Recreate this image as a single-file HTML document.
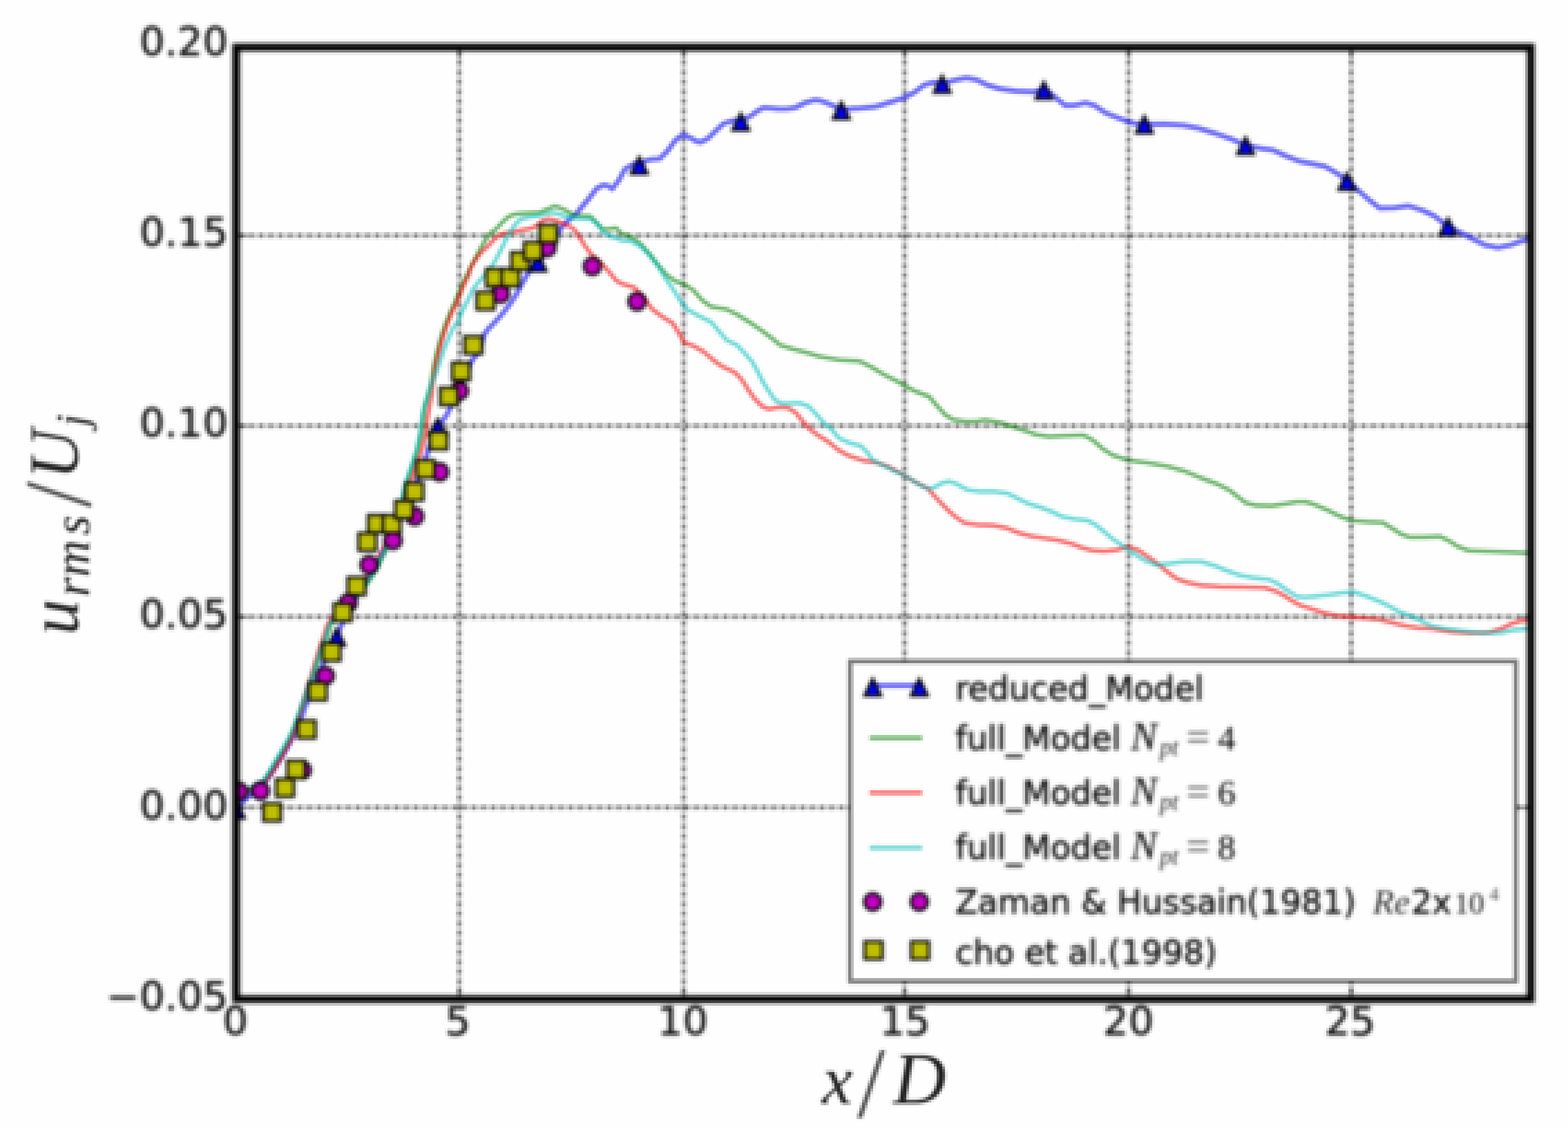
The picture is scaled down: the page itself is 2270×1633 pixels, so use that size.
<!DOCTYPE html>
<html lang="en"><head><meta charset="utf-8"><title>u_rms/U_j vs x/D</title>
<style>html,body{margin:0;padding:0;background:#fefefe;overflow:hidden}svg{display:block}</style></head>
<body>
<svg xmlns="http://www.w3.org/2000/svg" width="2270" height="1633" viewBox="0 0 2270 1633">
<defs>
<filter id="soft" x="0" y="0" width="2270" height="1633" filterUnits="userSpaceOnUse" color-interpolation-filters="sRGB"><feGaussianBlur in="SourceGraphic" stdDeviation="0.9" result="b"/><feFlood x="1" y="1" width="1" height="1" flood-color="#000" flood-opacity="1" result="dot"/><feComposite in="dot" in2="dot" operator="over" x="0" y="0" width="4" height="4" result="cell"/><feTile in="cell" x="0" y="0" width="2270" height="1633" result="grid"/><feComposite in="b" in2="grid" operator="in" result="samp"/><feMorphology in="samp" operator="dilate" radius="1" result="d"/><feOffset in="d" dx="1" dy="0" result="d1"/><feOffset in="d" dx="0" dy="1" result="d2"/><feOffset in="d" dx="1" dy="1" result="d3"/><feMerge><feMergeNode in="d3"/><feMergeNode in="d1"/><feMergeNode in="d2"/><feMergeNode in="d"/></feMerge></filter>
<filter id="b_grid" x="0" y="0" width="2270" height="1633" filterUnits="userSpaceOnUse" color-interpolation-filters="sRGB"><feGaussianBlur stdDeviation="0.9"/></filter>
<filter id="b_line" x="0" y="0" width="2270" height="1633" filterUnits="userSpaceOnUse" color-interpolation-filters="sRGB"><feGaussianBlur stdDeviation="1.3"/></filter>
<filter id="b_mark" x="0" y="0" width="2270" height="1633" filterUnits="userSpaceOnUse" color-interpolation-filters="sRGB"><feGaussianBlur stdDeviation="1.9"/></filter>
<filter id="b_text" x="0" y="0" width="2270" height="1633" filterUnits="userSpaceOnUse" color-interpolation-filters="sRGB"><feGaussianBlur stdDeviation="1.9"/></filter>
<filter id="b_frame" x="0" y="0" width="2270" height="1633" filterUnits="userSpaceOnUse" color-interpolation-filters="sRGB"><feGaussianBlur stdDeviation="2.6"/></filter>
<filter id="b_leg" x="0" y="0" width="2270" height="1633" filterUnits="userSpaceOnUse" color-interpolation-filters="sRGB"><feGaussianBlur stdDeviation="1.0"/></filter>
<filter id="b_lab" x="0" y="0" width="2270" height="1633" filterUnits="userSpaceOnUse" color-interpolation-filters="sRGB"><feGaussianBlur stdDeviation="1.8"/></filter>
<clipPath id="ax"><rect x="341.9" y="68.5" width="1874.2999999999997" height="1378.0"/></clipPath>
</defs>
<rect width="2270" height="1633" fill="#fefefe"/>
<g filter="url(#soft)">
<rect x="-4" y="-4" width="2278" height="1641" fill="#fefefe"/>
<g transform="translate(-0.5,-0.5)">
<g fill="none" clip-path="url(#ax)"><g filter="url(#b_grid)" stroke="#000" stroke-width="7">
<line x1="665.0" y1="68.5" x2="665.0" y2="1446.5" stroke-opacity="0.2"/>
<line x1="665.0" y1="74.5" x2="665.0" y2="1446.5" stroke-opacity="0.4" stroke-dasharray="4.5 9.5"/>
<line x1="989.8" y1="68.5" x2="989.8" y2="1446.5" stroke-opacity="0.2"/>
<line x1="989.8" y1="74.5" x2="989.8" y2="1446.5" stroke-opacity="0.4" stroke-dasharray="4.5 9.5"/>
<line x1="1309.6" y1="68.5" x2="1309.6" y2="1446.5" stroke-opacity="0.2"/>
<line x1="1309.6" y1="74.5" x2="1309.6" y2="1446.5" stroke-opacity="0.4" stroke-dasharray="4.5 9.5"/>
<line x1="1633.8" y1="68.5" x2="1633.8" y2="1446.5" stroke-opacity="0.2"/>
<line x1="1633.8" y1="74.5" x2="1633.8" y2="1446.5" stroke-opacity="0.4" stroke-dasharray="4.5 9.5"/>
<line x1="1956.2" y1="68.5" x2="1956.2" y2="1446.5" stroke-opacity="0.2"/>
<line x1="1956.2" y1="74.5" x2="1956.2" y2="1446.5" stroke-opacity="0.4" stroke-dasharray="4.5 9.5"/>
<line x1="341.9" y1="341.0" x2="2216.2" y2="341.0" stroke-opacity="0.2"/>
<line x1="347.9" y1="341.0" x2="2216.2" y2="341.0" stroke-opacity="0.4" stroke-dasharray="4.5 9.5"/>
<line x1="341.9" y1="616.5" x2="2216.2" y2="616.5" stroke-opacity="0.2"/>
<line x1="347.9" y1="616.5" x2="2216.2" y2="616.5" stroke-opacity="0.4" stroke-dasharray="4.5 9.5"/>
<line x1="341.9" y1="893.0" x2="2216.2" y2="893.0" stroke-opacity="0.2"/>
<line x1="347.9" y1="893.0" x2="2216.2" y2="893.0" stroke-opacity="0.4" stroke-dasharray="4.5 9.5"/>
<line x1="341.9" y1="1169.0" x2="2216.2" y2="1169.0" stroke-opacity="0.2"/>
<line x1="347.9" y1="1169.0" x2="2216.2" y2="1169.0" stroke-opacity="0.4" stroke-dasharray="4.5 9.5"/>
</g></g>
<g clip-path="url(#ax)">
<g filter="url(#b_line)" fill="none" stroke-linejoin="round" stroke-width="6.2" stroke-opacity="0.56">
<polyline points="342.0,1171.0 352.0,1160.0 366.0,1148.0 380.0,1137.0 390.0,1124.0 399.0,1110.0 407.0,1097.0 415.0,1084.0 422.0,1071.0 428.0,1059.0 433.0,1047.0 438.0,1034.0 442.0,1022.0 447.0,1010.0 452.0,998.0 458.0,984.0 464.0,970.0 470.0,957.0 476.0,944.0 482.0,932.0 487.5,922.0 493.0,908.0 500.0,893.0 510.0,874.0 520.0,857.0 532.0,838.0 543.0,820.0 552.0,803.0 560.0,788.0 570.0,768.0 580.0,748.0 590.0,728.0 600.0,706.0 608.0,688.0 615.0,668.0 620.0,652.0 627.0,634.0 633.8,618.0 640.0,610.0 646.0,602.0 652.0,590.0 660.0,572.0 668.0,555.0 675.0,539.0 682.0,524.0 690.0,513.0 696.0,500.0 701.0,484.0 707.0,476.0 713.0,470.0 725.0,457.0 737.0,442.0 747.0,427.0 756.0,410.0 762.0,400.0 768.0,389.0 779.0,380.0 790.0,362.0 802.0,345.0 814.0,328.0 825.0,317.0 836.0,307.8 840.0,302.2 851.0,289.3 864.0,272.6 873.3,268.0 880.0,269.0 886.3,273.5 895.6,261.5 904.8,244.8 917.8,237.4 925.4,239.0 936.3,231.9 945.0,230.5 954.8,230.0 966.0,218.9 977.0,204.0 984.0,198.0 990.0,194.8 1001.0,200.4 1008.0,204.5 1014.0,206.0 1025.0,200.4 1036.3,189.3 1047.4,179.0 1062.0,174.4 1072.4,176.0 1088.0,167.0 1096.0,161.0 1104.8,156.0 1115.0,156.5 1127.0,157.8 1140.0,157.5 1151.0,156.0 1166.0,148.5 1179.0,144.8 1187.0,145.5 1195.6,148.5 1208.5,154.0 1218.0,159.5 1228.0,158.0 1238.0,156.9 1240.0,157.2 1267.8,154.4 1291.9,147.0 1308.5,141.5 1323.3,134.0 1338.0,123.0 1351.0,119.3 1364.0,121.5 1375.0,118.0 1384.4,115.6 1399.0,112.8 1414.0,115.6 1429.0,123.0 1447.4,128.5 1471.5,132.0 1495.6,133.0 1511.3,130.4 1520.0,135.0 1530.7,143.3 1541.9,152.6 1554.8,152.6 1571.5,148.9 1584.4,152.6 1601.0,163.7 1619.6,171.0 1634.4,176.7 1645.0,179.0 1656.7,180.0 1686.3,179.6 1714.0,181.5 1736.3,186.0 1760.4,193.5 1784.4,201.9 1803.3,210.6 1825.0,214.8 1843.7,217.6 1862.0,226.0 1880.7,233.3 1899.0,237.0 1917.8,240.7 1930.7,248.0 1940.0,253.7 1950.0,262.3 1969.0,278.0 1984.0,291.0 1997.6,301.5 2018.0,301.0 2039.0,298.0 2058.0,304.0 2076.0,312.2 2096.3,328.0 2118.5,339.0 2135.0,347.4 2150.0,354.8 2168.5,358.5 2187.0,354.8 2201.9,349.3 2214.0,345.6" stroke="#0000ff" stroke-width="7.6"/>
</g>
<g filter="url(#b_mark)">
<path d="M342.0,1160.5 L330.0,1184.5 L354.0,1184.5 Z" fill="#0000ff" stroke="#000" stroke-width="4.0" stroke-linejoin="miter"/>
<path d="M487.5,910.5 L475.5,934.5 L499.5,934.5 Z" fill="#0000ff" stroke="#000" stroke-width="4.0" stroke-linejoin="miter"/>
<path d="M633.8,606.5 L621.8,630.5 L645.8,630.5 Z" fill="#0000ff" stroke="#000" stroke-width="4.0" stroke-linejoin="miter"/>
<path d="M779.0,368.5 L767.0,392.5 L791.0,392.5 Z" fill="#0000ff" stroke="#000" stroke-width="4.0" stroke-linejoin="miter"/>
<path d="M925.4,227.5 L913.4,251.5 L937.4,251.5 Z" fill="#0000ff" stroke="#000" stroke-width="4.0" stroke-linejoin="miter"/>
<path d="M1072.4,164.5 L1060.4,188.5 L1084.4,188.5 Z" fill="#0000ff" stroke="#000" stroke-width="4.0" stroke-linejoin="miter"/>
<path d="M1218.0,148.0 L1206.0,172.0 L1230.0,172.0 Z" fill="#0000ff" stroke="#000" stroke-width="4.0" stroke-linejoin="miter"/>
<path d="M1364.0,110.0 L1352.0,134.0 L1376.0,134.0 Z" fill="#0000ff" stroke="#000" stroke-width="4.0" stroke-linejoin="miter"/>
<path d="M1511.3,118.9 L1499.3,142.9 L1523.3,142.9 Z" fill="#0000ff" stroke="#000" stroke-width="4.0" stroke-linejoin="miter"/>
<path d="M1656.7,168.5 L1644.7,192.5 L1668.7,192.5 Z" fill="#0000ff" stroke="#000" stroke-width="4.0" stroke-linejoin="miter"/>
<path d="M1803.3,199.1 L1791.3,223.1 L1815.3,223.1 Z" fill="#0000ff" stroke="#000" stroke-width="4.0" stroke-linejoin="miter"/>
<path d="M1950.0,250.8 L1938.0,274.8 L1962.0,274.8 Z" fill="#0000ff" stroke="#000" stroke-width="4.0" stroke-linejoin="miter"/>
<path d="M2096.3,316.5 L2084.3,340.5 L2108.3,340.5 Z" fill="#0000ff" stroke="#000" stroke-width="4.0" stroke-linejoin="miter"/>
</g>
<g filter="url(#b_line)" fill="none" stroke-linejoin="round" stroke-width="6.2" stroke-opacity="0.56">
<polyline points="342.5,1149.0 352.5,1146.0 362.5,1142.0 372.5,1137.0 383.2,1129.9 391.8,1116.4 399.1,1104.0 406.5,1092.0 413.8,1079.6 419.9,1068.6 424.8,1057.6 429.7,1045.3 434.6,1031.9 438.3,1020.8 442.0,1011.0 445.7,1000.0 452.0,983.5 459.3,961.6 466.7,938.8 474.0,919.4 478.9,904.0 490.5,890.0 505.5,873.0 520.5,857.0 535.3,840.0 544.5,825.0 551.2,812.0 557.3,800.0 563.5,785.0 569.5,768.0 575.5,750.0 580.7,732.8 585.5,712.0 591.8,689.8 599.1,668.6 605.2,649.0 610.1,624.5 613.2,600.0 614.5,588.0 619.5,572.0 624.0,556.0 628.3,528.6 633.2,507.8 638.1,489.4 644.3,471.0 651.5,452.7 659.0,436.8 665.1,422.0 671.2,407.4 676.1,398.0 682.0,386.0 688.0,374.0 694.0,363.0 700.0,352.0 706.7,341.0 712.0,336.0 717.8,332.0 726.0,323.0 734.4,315.0 741.0,311.5 749.0,309.6 765.0,308.5 780.7,307.8 792.0,303.0 803.0,298.5 810.0,300.5 817.8,304.0 824.0,307.5 830.7,311.5 843.0,312.5 854.8,313.0 862.0,320.7 873.0,332.0 882.0,331.5 892.0,330.0 900.0,338.5 914.8,344.0 927.8,353.3 940.7,368.0 953.7,384.8 964.8,397.8 977.8,407.0 990.7,411.7 1003.7,420.0 1016.7,434.8 1029.6,444.0 1051.9,447.8 1066.7,455.0 1085.0,466.3 1103.7,479.3 1118.5,490.4 1129.6,499.6 1144.4,504.3 1168.5,510.7 1187.0,516.3 1214.8,521.0 1244.4,522.8 1261.0,531.0 1279.6,542.2 1298.0,551.5 1307.4,557.0 1324.0,566.0 1345.0,574.0 1357.0,588.0 1369.0,601.0 1380.0,607.5 1398.0,610.4 1414.0,610.0 1426.0,608.0 1448.0,611.7 1466.7,618.0 1485.0,623.7 1500.0,629.3 1518.5,632.0 1540.7,631.0 1568.5,630.0 1581.5,636.7 1596.3,649.6 1611.0,659.0 1633.3,666.2 1663.0,670.3 1691.0,675.3 1714.8,682.0 1739.0,692.0 1763.0,701.0 1779.6,709.4 1792.6,719.6 1803.7,728.0 1818.5,731.7 1840.7,732.4 1859.0,729.8 1877.8,726.5 1890.0,726.5 1901.9,730.0 1920.4,737.8 1938.9,747.0 1955.6,753.5 1979.6,755.5 2001.9,756.5 2016.7,765.6 2027.8,773.0 2040.7,777.6 2063.0,777.6 2085.0,776.7 2098.0,783.0 2111.0,791.5 2126.0,797.0 2146.3,798.0 2174.0,799.0 2214.0,800.7" stroke="#008000"/>
<polyline points="342.6,1149.0 352.9,1146.0 363.3,1142.0 373.8,1137.0 385.2,1129.9 395.2,1116.4 402.9,1104.0 409.8,1092.0 416.6,1079.6 422.2,1068.6 426.6,1057.6 430.5,1045.3 434.4,1031.9 437.2,1020.8 440.1,1011.0 443.3,1000.0 448.9,983.5 455.4,961.6 462.3,938.8 469.3,919.4 474.0,904.0 485.4,890.0 500.2,873.0 515.0,857.0 529.5,840.0 538.6,825.0 545.5,812.0 552.0,800.0 559.2,785.0 565.7,768.0 573.5,750.0 581.3,732.8 588.8,712.0 597.3,689.8 604.8,668.6 611.2,649.0 616.3,624.5 619.7,600.0 621.8,588.0 625.2,571.7 626.7,555.3 630.8,528.6 635.7,507.8 640.6,489.4 646.8,471.0 654.0,452.7 661.5,436.8 667.6,422.0 673.7,407.4 678.6,398.0 680.7,389.0 687.0,378.0 693.7,369.0 700.0,362.0 706.7,356.0 714.0,348.0 721.5,341.0 732.0,337.5 743.7,335.6 757.0,333.0 771.5,330.0 779.0,325.0 786.0,319.0 794.0,317.0 803.0,319.0 816.0,324.0 829.0,330.0 835.0,337.0 840.0,345.0 847.0,356.0 855.0,367.0 864.0,376.0 873.0,383.7 883.0,395.0 892.0,406.0 900.0,410.7 918.5,416.3 933.3,433.0 944.4,447.8 959.3,458.9 974.0,468.0 983.3,483.0 990.7,496.0 1003.7,500.6 1018.5,509.0 1033.3,521.9 1046.3,531.0 1063.0,538.5 1074.0,549.6 1083.3,564.4 1092.6,577.4 1103.7,588.5 1113.0,592.2 1127.8,589.5 1140.7,590.4 1151.9,597.4 1161.0,608.5 1170.4,619.6 1185.0,630.7 1200.0,640.0 1213.0,651.0 1227.8,659.4 1250.0,666.9 1268.5,669.6 1285.0,675.0 1305.6,686.3 1324.0,697.4 1342.6,706.7 1351.9,717.0 1363.0,729.0 1374.0,740.0 1385.0,749.5 1396.3,757.0 1414.8,759.8 1438.9,760.7 1457.4,764.4 1476.0,771.9 1494.4,776.5 1513.0,779.3 1531.5,782.0 1550.0,786.7 1566.7,793.0 1581.5,796.9 1600.0,798.0 1618.5,795.8 1633.3,791.5 1648.0,796.5 1663.0,806.7 1677.8,817.8 1689.0,827.0 1703.7,838.0 1720.4,843.7 1739.0,847.4 1766.7,849.3 1803.7,850.0 1831.5,851.0 1846.3,855.6 1859.0,862.2 1870.4,869.6 1881.5,876.0 1896.3,880.6 1914.8,887.0 1933.3,891.2 1956.0,893.3 1979.6,895.0 1998.0,897.0 2016.7,901.7 2035.0,906.3 2053.7,909.0 2072.0,910.0 2100.0,914.6 2127.8,916.5 2155.6,915.6 2174.0,910.0 2189.0,902.6 2201.9,899.0 2214.0,898.0" stroke="#ff0000"/>
<polyline points="340.5,1149.0 350.5,1146.0 360.5,1142.0 370.5,1137.0 381.2,1129.9 389.8,1116.4 397.1,1104.0 404.5,1092.0 411.8,1079.6 417.9,1068.6 422.8,1057.6 427.7,1045.3 432.6,1031.9 436.3,1020.8 440.0,1011.0 443.7,1000.0 450.0,983.5 457.3,961.6 464.7,938.8 472.0,919.4 476.9,904.0 488.5,890.0 503.5,873.0 518.5,857.0 533.3,840.0 542.5,825.0 549.2,812.0 555.3,800.0 562.0,785.0 568.0,768.0 574.0,750.0 579.2,732.8 584.0,712.0 590.3,689.8 597.6,668.6 603.7,649.0 608.6,624.5 611.7,600.0 615.0,588.0 620.0,571.7 625.0,555.3 631.0,541.0 637.2,522.5 643.3,504.0 649.4,489.4 656.8,473.5 664.0,463.7 667.8,452.7 676.4,436.8 685.0,418.4 694.8,406.0 704.0,396.0 710.0,389.0 716.0,379.0 721.5,369.0 727.0,358.0 732.6,346.7 738.0,337.0 743.7,328.0 749.0,321.5 754.8,317.0 765.0,314.5 777.0,313.0 788.0,310.0 799.0,307.8 808.0,309.5 817.8,313.0 830.0,315.5 843.0,316.5 854.8,317.0 860.0,320.5 866.0,326.0 873.0,335.6 882.0,341.0 892.0,344.8 900.0,347.8 914.8,349.6 927.8,357.0 940.7,370.0 953.7,386.7 964.8,405.0 977.8,423.7 987.0,438.5 994.4,447.8 1011.0,457.0 1029.6,466.3 1040.7,479.3 1051.9,492.2 1066.7,499.6 1076.0,509.0 1089.0,523.7 1096.3,536.7 1103.7,551.5 1113.0,566.3 1122.0,579.3 1133.3,584.4 1145.0,584.0 1157.4,583.5 1170.4,588.0 1181.5,599.3 1192.6,612.2 1203.7,621.5 1214.8,634.4 1229.6,641.0 1246.3,645.6 1255.6,654.8 1263.0,666.0 1277.8,673.3 1296.3,682.6 1309.3,688.0 1324.0,697.4 1337.0,705.0 1345.0,707.0 1351.9,706.0 1363.0,699.6 1374.0,696.9 1385.0,700.6 1400.0,709.0 1418.5,711.7 1440.7,711.7 1459.3,714.4 1474.0,721.9 1489.0,729.3 1507.4,734.8 1522.0,740.4 1537.0,747.8 1555.6,751.5 1574.0,753.3 1585.0,758.9 1596.3,768.0 1607.4,777.4 1620.4,786.7 1635.0,797.4 1655.6,810.4 1674.0,817.8 1692.6,816.0 1714.8,813.0 1739.0,813.0 1757.4,818.7 1776.0,826.0 1794.4,832.6 1813.0,836.3 1837.0,839.0 1850.0,845.0 1864.0,855.0 1877.8,863.7 1890.0,864.5 1901.9,863.7 1924.0,861.0 1946.3,858.0 1961.0,857.2 1979.6,863.7 1998.0,871.0 2013.0,878.5 2026.0,886.0 2044.4,892.4 2057.4,899.0 2072.0,906.3 2090.7,910.0 2118.5,913.7 2146.3,916.5 2174.0,915.6 2192.6,911.9 2214.0,910.0" stroke="#00bfbf"/>
</g>
<g filter="url(#b_mark)">
<circle cx="346.0" cy="1146.0" r="12.25" fill="#bf00bf" stroke="#000" stroke-width="4.0"/>
<circle cx="377.0" cy="1145.0" r="12.25" fill="#bf00bf" stroke="#000" stroke-width="4.0"/>
<circle cx="437.5" cy="1115.0" r="12.25" fill="#bf00bf" stroke="#000" stroke-width="4.0"/>
<circle cx="471.0" cy="978.5" r="12.25" fill="#bf00bf" stroke="#000" stroke-width="4.0"/>
<circle cx="504.0" cy="873.0" r="12.25" fill="#bf00bf" stroke="#000" stroke-width="4.0"/>
<circle cx="534.4" cy="817.7" r="12.25" fill="#bf00bf" stroke="#000" stroke-width="4.0"/>
<circle cx="569.0" cy="782.5" r="12.25" fill="#bf00bf" stroke="#000" stroke-width="4.0"/>
<circle cx="600.3" cy="747.5" r="12.25" fill="#bf00bf" stroke="#000" stroke-width="4.0"/>
<circle cx="636.5" cy="683.3" r="12.25" fill="#bf00bf" stroke="#000" stroke-width="4.0"/>
<circle cx="665.0" cy="566.0" r="12.25" fill="#bf00bf" stroke="#000" stroke-width="4.0"/>
<circle cx="724.6" cy="425.5" r="12.25" fill="#bf00bf" stroke="#000" stroke-width="4.0"/>
<circle cx="792.0" cy="358.7" r="12.25" fill="#bf00bf" stroke="#000" stroke-width="4.0"/>
<circle cx="857.6" cy="385.6" r="12.25" fill="#bf00bf" stroke="#000" stroke-width="4.0"/>
<circle cx="922.3" cy="436.6" r="12.25" fill="#bf00bf" stroke="#000" stroke-width="4.0"/>
<rect x="381.2" y="1163.2" width="25.5" height="25.5" fill="#bfbf00" stroke="#000" stroke-width="4.0"/>
<rect x="399.8" y="1127.8" width="25.5" height="25.5" fill="#bfbf00" stroke="#000" stroke-width="4.0"/>
<rect x="415.9" y="1101.2" width="25.5" height="25.5" fill="#bfbf00" stroke="#000" stroke-width="4.0"/>
<rect x="431.2" y="1043.2" width="25.5" height="25.5" fill="#bfbf00" stroke="#000" stroke-width="4.0"/>
<rect x="447.2" y="988.2" width="25.5" height="25.5" fill="#bfbf00" stroke="#000" stroke-width="4.0"/>
<rect x="467.2" y="931.2" width="25.5" height="25.5" fill="#bfbf00" stroke="#000" stroke-width="4.0"/>
<rect x="483.2" y="873.8" width="25.5" height="25.5" fill="#bfbf00" stroke="#000" stroke-width="4.0"/>
<rect x="503.5" y="835.8" width="25.5" height="25.5" fill="#bfbf00" stroke="#000" stroke-width="4.0"/>
<rect x="519.2" y="771.8" width="25.5" height="25.5" fill="#bfbf00" stroke="#000" stroke-width="4.0"/>
<rect x="532.8" y="745.6" width="25.5" height="25.5" fill="#bfbf00" stroke="#000" stroke-width="4.0"/>
<rect x="554.5" y="745.9" width="25.5" height="25.5" fill="#bfbf00" stroke="#000" stroke-width="4.0"/>
<rect x="572.2" y="725.2" width="25.5" height="25.5" fill="#bfbf00" stroke="#000" stroke-width="4.0"/>
<rect x="587.2" y="699.0" width="25.5" height="25.5" fill="#bfbf00" stroke="#000" stroke-width="4.0"/>
<rect x="603.5" y="666.2" width="25.5" height="25.5" fill="#bfbf00" stroke="#000" stroke-width="4.0"/>
<rect x="622.2" y="625.2" width="25.5" height="25.5" fill="#bfbf00" stroke="#000" stroke-width="4.0"/>
<rect x="637.2" y="561.2" width="25.5" height="25.5" fill="#bfbf00" stroke="#000" stroke-width="4.0"/>
<rect x="654.8" y="524.9" width="25.5" height="25.5" fill="#bfbf00" stroke="#000" stroke-width="4.0"/>
<rect x="672.5" y="486.9" width="25.5" height="25.5" fill="#bfbf00" stroke="#000" stroke-width="4.0"/>
<rect x="690.2" y="422.8" width="25.5" height="25.5" fill="#bfbf00" stroke="#000" stroke-width="4.0"/>
<rect x="703.8" y="389.2" width="25.5" height="25.5" fill="#bfbf00" stroke="#000" stroke-width="4.0"/>
<rect x="726.2" y="389.2" width="25.5" height="25.5" fill="#bfbf00" stroke="#000" stroke-width="4.0"/>
<rect x="740.2" y="365.2" width="25.5" height="25.5" fill="#bfbf00" stroke="#000" stroke-width="4.0"/>
<rect x="758.8" y="350.6" width="25.5" height="25.5" fill="#bfbf00" stroke="#000" stroke-width="4.0"/>
<rect x="781.0" y="325.6" width="25.5" height="25.5" fill="#bfbf00" stroke="#000" stroke-width="4.0"/>
</g>
</g>
<g filter="url(#b_grid)" stroke="#000" stroke-opacity="0.25" stroke-width="5" fill="none">
<line x1="665.0" y1="1446.5" x2="665.0" y2="1429.5"/>
<line x1="665.0" y1="68.5" x2="665.0" y2="85.5"/>
<line x1="989.8" y1="1446.5" x2="989.8" y2="1429.5"/>
<line x1="989.8" y1="68.5" x2="989.8" y2="85.5"/>
<line x1="1309.6" y1="1446.5" x2="1309.6" y2="1429.5"/>
<line x1="1309.6" y1="68.5" x2="1309.6" y2="85.5"/>
<line x1="1633.8" y1="1446.5" x2="1633.8" y2="1429.5"/>
<line x1="1633.8" y1="68.5" x2="1633.8" y2="85.5"/>
<line x1="1956.2" y1="1446.5" x2="1956.2" y2="1429.5"/>
<line x1="1956.2" y1="68.5" x2="1956.2" y2="85.5"/>
<line x1="341.9" y1="341.0" x2="358.9" y2="341.0"/>
<line x1="2216.2" y1="341.0" x2="2199.2" y2="341.0"/>
<line x1="341.9" y1="616.5" x2="358.9" y2="616.5"/>
<line x1="2216.2" y1="616.5" x2="2199.2" y2="616.5"/>
<line x1="341.9" y1="893.0" x2="358.9" y2="893.0"/>
<line x1="2216.2" y1="893.0" x2="2199.2" y2="893.0"/>
<line x1="341.9" y1="1169.0" x2="358.9" y2="1169.0"/>
<line x1="2216.2" y1="1169.0" x2="2199.2" y2="1169.0"/>
</g>
<g filter="url(#b_leg)"><rect x="1230.7" y="957.4" width="963.8" height="463.19999999999993" fill="#fefefe" stroke="#000" stroke-opacity="0.52" stroke-width="6.5"/></g>
<g filter="url(#b_line)" fill="none" stroke-width="6.2" stroke-opacity="0.56">
<line x1="1259" y1="992.5" x2="1335" y2="992.5" stroke="#0000ff" stroke-width="7.6"/>
<line x1="1259" y1="1068.4" x2="1335" y2="1068.4" stroke="#008000"/>
<line x1="1259" y1="1147.7" x2="1335" y2="1147.7" stroke="#ff0000"/>
<line x1="1259" y1="1227.3" x2="1335" y2="1227.3" stroke="#00bfbf"/>
</g>
<g filter="url(#b_mark)">
<path d="M1263.5,983.0 L1251.5,1007.0 L1275.5,1007.0 Z" fill="#0000ff" stroke="#000" stroke-width="4.0" stroke-linejoin="miter"/>
<circle cx="1263.5" cy="1305.6" r="12.25" fill="#bf00bf" stroke="#000" stroke-width="4.0"/>
<rect x="1251.8" y="1363.0" width="25.5" height="25.5" fill="#bfbf00" stroke="#000" stroke-width="4.0"/>
<path d="M1331.0,983.0 L1319.0,1007.0 L1343.0,1007.0 Z" fill="#0000ff" stroke="#000" stroke-width="4.0" stroke-linejoin="miter"/>
<circle cx="1331.0" cy="1305.6" r="12.25" fill="#bf00bf" stroke="#000" stroke-width="4.0"/>
<rect x="1319.2" y="1363.0" width="25.5" height="25.5" fill="#bfbf00" stroke="#000" stroke-width="4.0"/>
</g>
<g filter="url(#b_text)" font-family="'DejaVu Sans','Liberation Sans',sans-serif" font-size="47.5" fill="#141414" stroke="#141414" stroke-width="0.9" stroke-linejoin="round">
<text x="1383" y="1013.5">reduced_Model</text>
<text x="1383" y="1085.5">full_Model <tspan stroke-width="0.4" font-family="'Liberation Serif','DejaVu Serif',serif" font-style="italic" font-size="57.0" x="1637">N</tspan><tspan stroke="none" fill-opacity="0.9" font-family="'Liberation Serif','DejaVu Serif',serif" font-style="italic" font-size="35.1" x="1679" dy="8">pt</tspan><tspan stroke="none" fill-opacity="0.8" font-family="'Liberation Serif','DejaVu Serif',serif" font-size="61.8" x="1717" dy="-6">=</tspan><tspan stroke-width="0.4" font-family="'Liberation Serif','DejaVu Serif',serif" font-size="51.3" x="1763" dy="-2">4</tspan></text>
<text x="1383" y="1164.5">full_Model <tspan stroke-width="0.4" font-family="'Liberation Serif','DejaVu Serif',serif" font-style="italic" font-size="57.0" x="1637">N</tspan><tspan stroke="none" fill-opacity="0.9" font-family="'Liberation Serif','DejaVu Serif',serif" font-style="italic" font-size="35.1" x="1679" dy="8">pt</tspan><tspan stroke="none" fill-opacity="0.8" font-family="'Liberation Serif','DejaVu Serif',serif" font-size="61.8" x="1717" dy="-6">=</tspan><tspan stroke-width="0.4" font-family="'Liberation Serif','DejaVu Serif',serif" font-size="51.3" x="1763" dy="-2">6</tspan></text>
<text x="1383" y="1243.5">full_Model <tspan stroke-width="0.4" font-family="'Liberation Serif','DejaVu Serif',serif" font-style="italic" font-size="57.0" x="1637">N</tspan><tspan stroke="none" fill-opacity="0.9" font-family="'Liberation Serif','DejaVu Serif',serif" font-style="italic" font-size="35.1" x="1679" dy="8">pt</tspan><tspan stroke="none" fill-opacity="0.8" font-family="'Liberation Serif','DejaVu Serif',serif" font-size="61.8" x="1717" dy="-6">=</tspan><tspan stroke-width="0.4" font-family="'Liberation Serif','DejaVu Serif',serif" font-size="51.3" x="1763" dy="-2">8</tspan></text>
<text x="1383" y="1322.5">Zaman &amp; Hussain(1981) <tspan stroke="none" fill-opacity="0.9" font-family="'Liberation Serif','DejaVu Serif',serif" font-style="italic" font-size="51.3" x="1987">Re</tspan><tspan x="2043">2x</tspan><tspan stroke="none" font-family="'Liberation Serif','DejaVu Serif',serif" font-size="43.7" x="2105">10</tspan><tspan stroke="none" fill-opacity="0.8" font-family="'Liberation Serif','DejaVu Serif',serif" font-size="28.1" x="2156" dy="-19">4</tspan></text>
<text x="1383" y="1395.5">cho et al.(1998)</text>
</g>
<g filter="url(#b_frame)"><rect x="341.9" y="68.5" width="1874.2999999999997" height="1378.0" fill="none" stroke="#000" stroke-width="11.0"/></g>
<g filter="url(#b_text)" font-family="'DejaVu Sans','Liberation Sans',sans-serif" font-size="57.5" fill="#141414" stroke="#141414" stroke-width="0.9" stroke-linejoin="round">
<text x="330" y="80.7" text-anchor="end">0.20</text>
<text x="330" y="356.9" text-anchor="end">0.15</text>
<text x="330" y="632.9" text-anchor="end">0.10</text>
<text x="330" y="909.2" text-anchor="end">0.05</text>
<text x="330" y="1186.4" text-anchor="end">0.00</text>
<text x="330" y="1462.5" text-anchor="end">−0.05</text>
<text x="340.7" y="1498.5" text-anchor="middle">0</text>
<text x="662.7" y="1498.5" text-anchor="middle">5</text>
<text x="988.4" y="1498.5" text-anchor="middle">10</text>
<text x="1310" y="1498.5" text-anchor="middle">15</text>
<text x="1633.7" y="1498.5" text-anchor="middle">20</text>
<text x="1954.5" y="1498.5" text-anchor="middle">25</text>
</g>
<g filter="url(#b_lab)" font-family="'Liberation Serif','DejaVu Serif',serif" font-style="italic" fill="#202020">
<text font-size="106"><tspan x="1190" y="1597" font-size="100">x</tspan><tspan x="1241" y="1617" font-style="normal" font-size="146" fill-opacity="0.8">/</tspan><tspan x="1293" y="1597">D</tspan></text>
<g transform="translate(113,758) rotate(-90)"><text font-size="106"><tspan x="-161" y="0" font-size="103">u</tspan><tspan x="-106" y="16" dx="0 0 7" font-size="74">rms</tspan><tspan x="23" y="18" font-style="normal" font-size="138" fill-opacity="0.8">/</tspan><tspan x="64" y="0" font-size="101">U</tspan><tspan x="140" y="13" font-size="66">j</tspan></text></g>
</g>
</g>
</g>
</g>
</svg>
</body></html>
